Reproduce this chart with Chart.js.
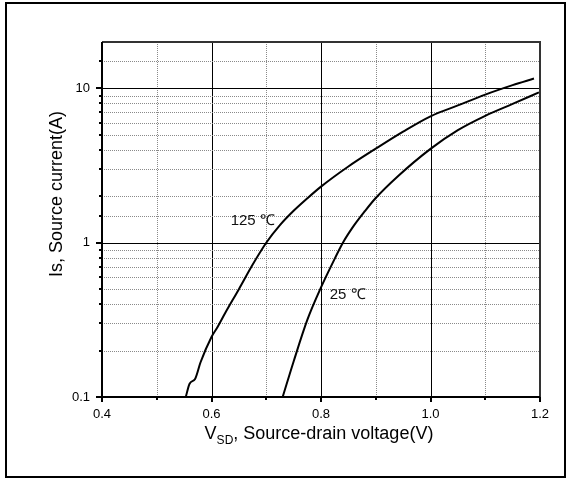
<!DOCTYPE html>
<html>
<head>
<meta charset="utf-8">
<title>Source current vs source-drain voltage</title>
<script src="https://cdn.jsdelivr.net/npm/chart.js@4.4.0/dist/chart.umd.min.js"></script>
<style>
  html, body { margin: 0; padding: 0; background: #fff; }
  canvas { display: block; }
</style>
</head>
<body>
<canvas id="vsdChart" width="569" height="480"></canvas>
<script>
// Is vs VSD, two junction temperatures
const volt125 = [0.553, 0.560, 0.570, 0.580, 0.600, 0.610, 0.625, 0.650, 0.675, 0.700, 0.725, 0.750, 0.775, 0.800, 0.850, 0.900, 0.950, 1.000, 1.050, 1.100, 1.150, 1.189];
const amps125 = [0.100, 0.122, 0.131, 0.168, 0.245, 0.280, 0.350, 0.500, 0.720, 1.00, 1.30, 1.61, 1.94, 2.31, 3.12, 4.07, 5.25, 6.60, 7.76, 9.12, 10.5, 11.6];
const volt25 = [0.730, 0.750, 0.775, 0.800, 0.820, 0.840, 0.860, 0.880, 0.900, 0.940, 1.000, 1.050, 1.100, 1.150, 1.198];
const amps25 = [0.100, 0.170, 0.316, 0.513, 0.724, 1.00, 1.29, 1.60, 1.95, 2.69, 4.06, 5.37, 6.65, 7.94, 9.42];

const xTickLabels = ['0.4', '0.6', '0.8', '1.0', '1.2'];
const yTickLabels = ['0.1', '1', '10'];

// curve labels, placed in data units
const curveNames = ['125 \u2103', '25 \u2103'];
const noteVolt = [0.635, 0.816];
const noteAmps = [1.39, 0.462];

const FONT = "'Liberation Sans', Arial, Helvetica, sans-serif";

function toPoints(xs, ys) {
    return xs.map((x, i) => ({ x: x, y: ys[i] }));
}

function isMajorX(v) {
    return Math.round(v * 10) % 2 === 0;
}

function isMajorY(v) {
    const e = Math.log10(v);
    return Math.abs(e - Math.round(e)) < 1e-6;
}

const drawingPlugin = {
    id: 'datasheetDecor',
    beforeDraw(chart) {
        const ctx = chart.ctx;
        ctx.save();
        ctx.fillStyle = '#fff';
        ctx.fillRect(0, 0, chart.width, chart.height);
        // outer frame
        ctx.strokeStyle = '#000';
        ctx.lineWidth = 2;
        ctx.strokeRect(6, 3, chart.width - 10, chart.height - 6);
        ctx.restore();
    },
    beforeDatasetsDraw(chart) {
        const ctx = chart.ctx;
        const area = chart.chartArea;
        const xs = chart.scales.x;
        const ys = chart.scales.y;
        ctx.save();
        // vertical grid
        xs.ticks.forEach(t => {
            const px = Math.round(xs.getPixelForValue(t.value)) + 0.5;
            if (px <= area.left + 2 || px >= area.right - 2) return;
            ctx.beginPath();
            if (isMajorX(t.value)) {
                ctx.setLineDash([]);
                ctx.strokeStyle = '#000';
            } else {
                ctx.setLineDash([1, 1]);
                ctx.strokeStyle = '#8a8a8a';
            }
            ctx.lineWidth = 1;
            ctx.moveTo(px, area.top);
            ctx.lineTo(px, area.bottom);
            ctx.stroke();
        });
        // horizontal grid
        ys.ticks.forEach(t => {
            const py = Math.round(ys.getPixelForValue(t.value)) + 0.5;
            if (py <= area.top + 2 || py >= area.bottom - 2) return;
            ctx.beginPath();
            if (isMajorY(t.value)) {
                ctx.setLineDash([]);
                ctx.strokeStyle = '#000';
            } else {
                ctx.setLineDash([1, 1]);
                ctx.strokeStyle = '#8a8a8a';
            }
            ctx.lineWidth = 1;
            ctx.moveTo(area.left, py);
            ctx.lineTo(area.right, py);
            ctx.stroke();
        });
        ctx.restore();
    },
    afterDatasetsDraw(chart) {
        const ctx = chart.ctx;
        const area = chart.chartArea;
        const xs = chart.scales.x;
        const ys = chart.scales.y;
        ctx.save();
        ctx.setLineDash([]);

        // plot frame
        ctx.lineWidth = 2;
        ctx.strokeStyle = '#333';
        ctx.beginPath();
        ctx.moveTo(area.left, area.top);
        ctx.lineTo(area.right, area.top);
        ctx.lineTo(area.right, area.bottom);
        ctx.stroke();
        ctx.strokeStyle = '#000';
        ctx.beginPath();
        ctx.moveTo(area.left, area.top);
        ctx.lineTo(area.left, area.bottom);
        ctx.lineTo(area.right, area.bottom);
        ctx.stroke();

        // outward tick marks
        xs.ticks.forEach(t => {
            const px = Math.round(xs.getPixelForValue(t.value));
            const len = isMajorX(t.value) ? 5 : 3;
            ctx.beginPath();
            ctx.moveTo(px, area.bottom);
            ctx.lineTo(px, area.bottom + len);
            ctx.stroke();
        });
        ys.ticks.forEach(t => {
            const py = Math.round(ys.getPixelForValue(t.value));
            if (py < area.top + 2) return;
            const len = isMajorY(t.value) ? 6 : 3;
            ctx.beginPath();
            ctx.moveTo(area.left, py);
            ctx.lineTo(area.left - len, py);
            ctx.stroke();
        });

        // curve labels
        ctx.fillStyle = '#111';
        ctx.font = '15px ' + FONT;
        ctx.textAlign = 'left';
        ctx.textBaseline = 'middle';
        curveNames.forEach((name, i) => {
            ctx.fillText(name, xs.getPixelForValue(noteVolt[i]), ys.getPixelForValue(noteAmps[i]));
        });

        // x axis title with subscript
        ctx.fillStyle = '#000';
        ctx.textBaseline = 'alphabetic';
        const mainFont = '18px ' + FONT;
        const subFont = '12px ' + FONT;
        const parts = [
            { text: 'V', font: mainFont, dy: 0 },
            { text: 'SD', font: subFont, dy: 5 },
            { text: ', Source-drain voltage(V)', font: mainFont, dy: 0 }
        ];
        let total = 0;
        parts.forEach(p => { ctx.font = p.font; p.w = ctx.measureText(p.text).width; total += p.w; });
        let cx = (area.left + area.right) / 2 - 2 - total / 2;
        const base = area.bottom + 42;
        parts.forEach(p => {
            ctx.font = p.font;
            ctx.fillText(p.text, cx, base + p.dy);
            cx += p.w;
        });

        // y axis title
        ctx.translate(area.left - 45, 194);
        ctx.rotate(-Math.PI / 2);
        ctx.font = mainFont;
        ctx.textAlign = 'center';
        ctx.textBaseline = 'middle';
        ctx.fillText('Is, Source current(A)', 0, 0);
        ctx.restore();
    }
};

const vsdChart = new Chart(document.getElementById('vsdChart').getContext('2d'), {
    type: 'line',
    data: {
        datasets: [{
            label: curveNames[0],
            data: toPoints(volt125, amps125),
            borderColor: '#000',
            borderWidth: 2,
            pointRadius: 0,
            cubicInterpolationMode: 'monotone',
            fill: false
        }, {
            label: curveNames[1],
            data: toPoints(volt25, amps25),
            borderColor: '#000',
            borderWidth: 2,
            pointRadius: 0,
            cubicInterpolationMode: 'monotone',
            fill: false
        }]
    },
    options: {
        responsive: false,
        animation: false,
        events: [],
        layout: {
            padding: { top: 42, right: 29, bottom: 0, left: 0 }
        },
        plugins: {
            legend: { display: false },
            tooltip: { enabled: false }
        },
        scales: {
            x: {
                type: 'linear',
                min: 0.4,
                max: 1.2,
                grid: { display: false, drawTicks: false },
                border: { display: false },
                ticks: {
                    stepSize: 0.1,
                    autoSkip: false,
                    maxRotation: 0,
                    padding: 10,
                    color: '#000',
                    font: { family: FONT, size: 13 },
                    callback: function(value) {
                        const label = Number(value).toFixed(1);
                        return xTickLabels.includes(label) ? label : '';
                    }
                },
                afterFit: scale => { scale.height = 83; }
            },
            y: {
                type: 'logarithmic',
                min: 0.1,
                max: 20,
                grid: { display: false, drawTicks: false },
                border: { display: false },
                ticks: {
                    autoSkip: false,
                    padding: 12,
                    color: '#000',
                    font: { family: FONT, size: 13 },
                    callback: function(value) {
                        const label = String(Number(value.toPrecision(3)));
                        return yTickLabels.includes(label) ? label : '';
                    }
                },
                afterFit: scale => { scale.width = 102; }
            }
        }
    },
    plugins: [drawingPlugin]
});
</script>
</body>
</html>
